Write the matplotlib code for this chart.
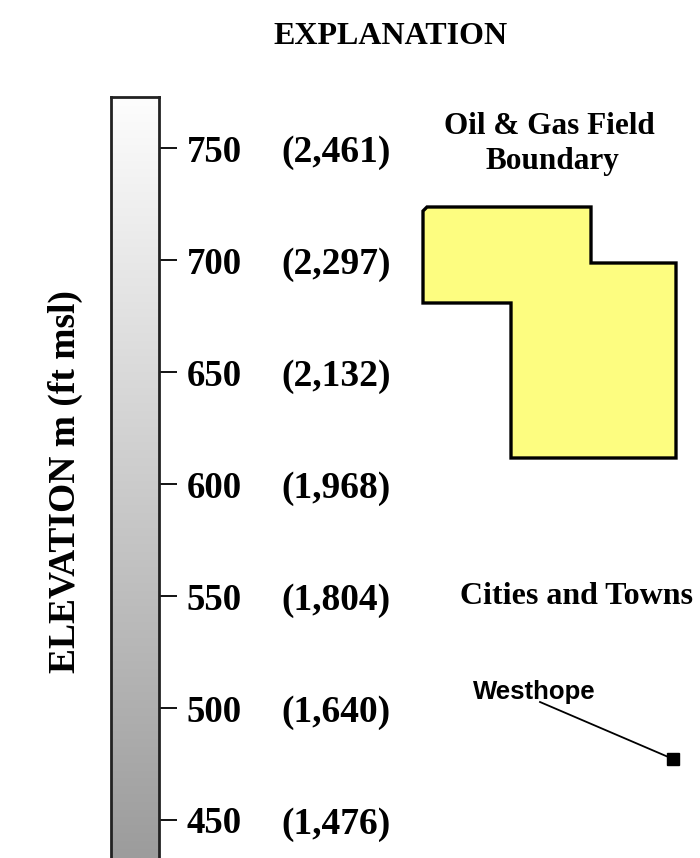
import numpy as np
import matplotlib
matplotlib.use("Agg")
import matplotlib.pyplot as plt
from matplotlib.colors import LinearSegmentedColormap
from matplotlib.transforms import blended_transform_factory

# elevation scale (m) and the matching feet labels
elev_m = [750, 700, 650, 600, 550, 500, 450]
elev_ft = ["(2,461)", "(2,297)", "(2,132)", "(1,968)", "(1,804)", "(1,640)", "(1,476)"]
elev_top, elev_bottom = 773, 433

# oil & gas field outline (legend swatch, pixel units)
field_x = [423, 427, 591, 591, 676, 676, 511, 511, 423]
field_y = [211, 207, 207, 263, 263, 458, 458, 303, 303]

# city marker + label
city_name = "Westhope"
city_pt = (673, 759)
city_label_end = (540, 702)

serif = "Liberation Serif"
sans = "Liberation Sans"

fig = plt.figure(figsize=(7, 8.58), dpi=100)

# elevation colour bar
cax = fig.add_axes([111 / 700, 0, 48 / 700, (858 - 97) / 858])
grad = np.linspace(0, 1, 256).reshape(-1, 1)
cmap = LinearSegmentedColormap.from_list("elev", ["#9c9c9c", "#fdfdfd"])
cax.imshow(grad, cmap=cmap, aspect="auto", origin="lower",
           extent=[0, 1, elev_bottom, elev_top])
cax.set_xlim(0, 1)
cax.set_ylim(elev_bottom, elev_top)
cax.set_xticks([])
cax.yaxis.tick_right()
cax.set_yticks(elev_m)
cax.set_yticklabels([str(v) for v in elev_m], fontfamily=serif,
                    fontweight="bold", fontsize=26.5)
cax.tick_params(axis="y", length=13, width=1.3, pad=7, direction="out")
for side in ["left", "right", "top"]:
    cax.spines[side].set_linewidth(2)
    cax.spines[side].set_color("#222222")
cax.spines["bottom"].set_visible(False)

# overlay in pixel coordinates for the legend items
ax = fig.add_axes([0, 0, 1, 1])
ax.set_xlim(0, 700)
ax.set_ylim(858, 0)
ax.axis("off")
ax.patch.set_alpha(0)

trans = blended_transform_factory(ax.transData, cax.transData)
for m, ft in zip(elev_m, elev_ft):
    ax.text(281, m, ft, transform=trans, ha="left", va="center_baseline",
            fontfamily=serif, fontweight="bold", fontsize=27)

ax.text(391, 36, "EXPLANATION", ha="center", va="center",
        fontfamily=serif, fontweight="bold", fontsize=23)
ax.text(65, 482, "ELEVATION m (ft msl)", rotation=90, ha="center", va="center",
        fontfamily=serif, fontweight="bold", fontsize=27)

ax.text(549, 127, "Oil & Gas Field", ha="center", va="center",
        fontfamily=serif, fontweight="bold", fontsize=22.5)
ax.text(552, 161, "Boundary", ha="center", va="center",
        fontfamily=serif, fontweight="bold", fontsize=22.5)
ax.fill(field_x, field_y, facecolor="#fdfd80", edgecolor="black",
        linewidth=2.4, joinstyle="miter")

ax.text(577, 597, "Cities and Towns", ha="center", va="center",
        fontfamily=serif, fontweight="bold", fontsize=23)
ax.plot([city_label_end[0], city_pt[0]], [city_label_end[1], city_pt[1]],
        color="black", linewidth=1.3)
ax.plot([city_pt[0]], [city_pt[1]], marker="s", color="black", markersize=9)
ax.text(534, 692, city_name, ha="center", va="center",
        fontfamily=sans, fontweight="bold", fontsize=18.5)

fig.savefig("out.png", dpi=100)
